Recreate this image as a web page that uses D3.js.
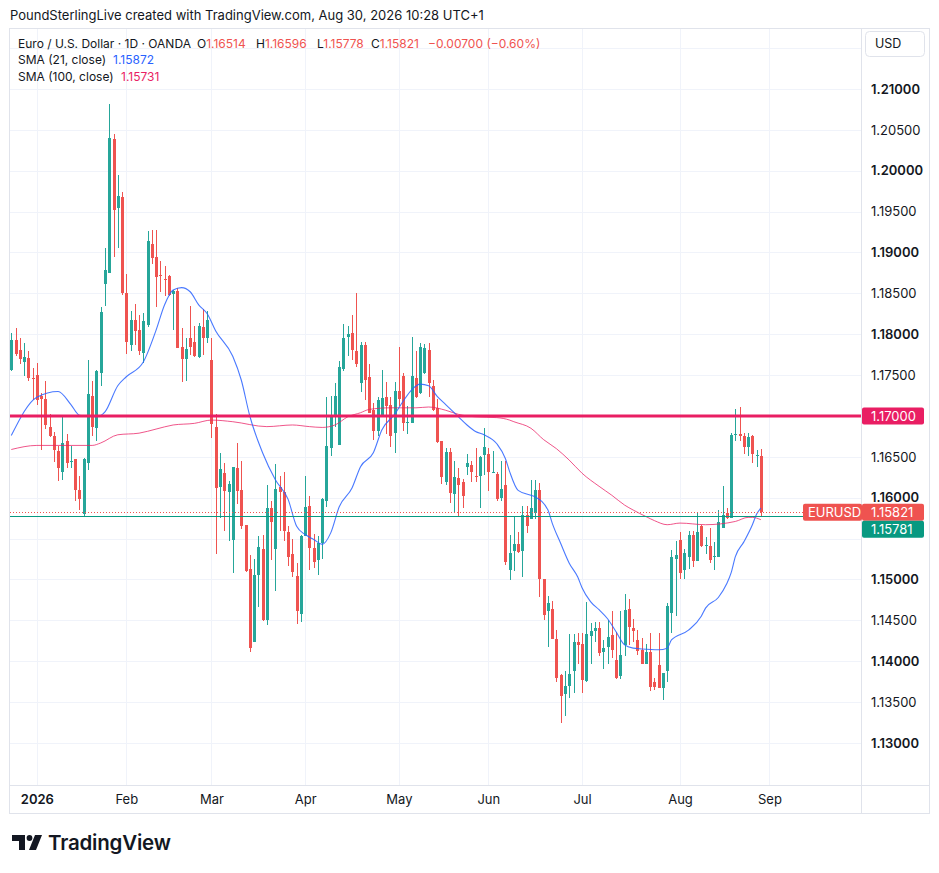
<!DOCTYPE html>
<meta charset="utf-8">
<style>
body { margin: 0; background: #fff; }
svg { display: block; font-family: Inter, Roboto, "Noto Sans", sans-serif; }
</style>
<svg width="939" height="873"></svg>
<script src="https://cdnjs.cloudflare.com/ajax/libs/d3/7.8.5/d3.min.js"></script>
<script>
// EUR/USD daily, OANDA, 23 Dec 2025 - 28 Aug 2026
const opens = [
	1.1756,1.1793,1.1781,1.1766,1.1771,1.1747,1.1750,1.1724,1.1721,1.1687,
	1.1675,1.1657,1.1632,1.1669,1.1644,1.1647,1.1609,1.1580,1.1642,1.1725,
	1.1685,1.1752,1.1862,1.1875,1.2039,1.1954,1.1968,1.1850,1.1787,1.1817,
	1.1805,1.1777,1.1811,1.1911,1.1894,1.1873,1.1868,1.1871,1.1849,1.1853,
	1.1784,1.1770,1.1796,1.1790,1.1772,1.1809,1.1796,1.1769,1.1687,1.1613,
	1.1630,1.1607,1.1548,1.1636,1.1609,1.1567,1.1513,1.1423,1.1505,1.1537,
	1.1451,1.1588,1.1537,1.1613,1.1607,1.1558,1.1531,1.1504,1.1458,1.1553,
	1.1590,1.1539,1.1524,1.1545,1.1596,1.1661,1.1700,1.1665,1.1757,1.1797,
	1.1801,1.1780,1.1740,1.1787,1.1748,1.1707,1.1682,1.1700,1.1723,1.1713,
	1.1679,1.1731,1.1749,1.1692,1.1692,1.1747,1.1728,1.1752,1.1781,1.1737,
	1.1710,1.1670,1.1619,1.1656,1.1605,1.1624,1.1619,1.1638,1.1640,1.1627,
	1.1627,1.1652,1.1654,1.1631,1.1629,1.1600,1.1616,1.1511,1.1535,1.1544,
	1.1535,1.1579,1.1574,1.1581,1.1609,1.1501,1.1462,1.1464,1.1427,1.1383,
	1.1360,1.1370,1.1388,1.1423,1.1421,1.1376,1.1431,1.1437,1.1441,1.1411,
	1.1418,1.1432,1.1401,1.1382,1.1420,1.1464,1.1441,1.1426,1.1414,1.1397,
	1.1411,1.1374,1.1395,1.1367,1.1388,1.1459,1.1525,1.1548,1.1512,1.1528,
	1.1554,1.1523,1.1565,1.1541,1.1541,1.1527,1.1528,1.1563,1.1581,1.1575,
	1.1677,1.1678,1.1676,1.1662,1.1675,1.1652,1.16514
];
const highs = [
	1.1801,1.1808,1.1796,1.1789,1.1779,1.1759,1.1765,1.1728,1.1743,1.1702,
	1.1681,1.1663,1.1700,1.1678,1.1663,1.1647,1.1627,1.1649,1.1768,1.1743,
	1.1756,1.1833,1.1906,1.2082,1.2045,1.1995,1.1974,1.1874,1.1828,1.1837,
	1.1823,1.1826,1.1926,1.1927,1.1927,1.1889,1.1884,1.1872,1.1854,1.1857,
	1.1808,1.1795,1.1834,1.1810,1.1814,1.1831,1.1828,1.1796,1.1703,1.1655,
	1.1642,1.1621,1.1638,1.1667,1.1645,1.1567,1.1530,1.1525,1.1553,1.1554,
	1.1615,1.1596,1.1641,1.1627,1.1631,1.1566,1.1549,1.1520,1.1555,1.1627,
	1.1602,1.1556,1.1553,1.1600,1.1723,1.1724,1.1740,1.1767,1.1812,1.1810,
	1.1824,1.1850,1.1791,1.1791,1.1763,1.1716,1.1723,1.1756,1.1742,1.1723,
	1.1742,1.1785,1.1752,1.1712,1.1797,1.1779,1.1789,1.1788,1.1789,1.1744,
	1.1721,1.1670,1.1661,1.1661,1.1645,1.1636,1.1623,1.1653,1.1645,1.1661,
	1.1651,1.1685,1.1661,1.1657,1.1632,1.1645,1.1645,1.1554,1.1577,1.1558,
	1.1590,1.1590,1.1622,1.1622,1.1618,1.1501,1.1480,1.1474,1.1438,1.1384,
	1.1388,1.1433,1.1433,1.1435,1.1434,1.1473,1.1447,1.1448,1.1448,1.1426,
	1.1451,1.1461,1.1436,1.1461,1.1482,1.1476,1.1452,1.1438,1.1428,1.1421,
	1.1435,1.1379,1.1435,1.1385,1.1471,1.1536,1.1547,1.1558,1.1537,1.1559,
	1.1559,1.1581,1.1567,1.1552,1.1563,1.1546,1.1585,1.1614,1.1588,1.1679,
	1.1709,1.1711,1.1679,1.1679,1.1677,1.1659,1.16596
];
const lows = [
	1.1755,1.1773,1.1764,1.1749,1.1743,1.1720,1.1714,1.1659,1.1684,1.1674,
	1.1644,1.1620,1.1622,1.1636,1.1636,1.1596,1.1585,1.1578,1.1634,1.1675,
	1.1670,1.1737,1.1835,1.1875,1.1895,1.1905,1.1848,1.1776,1.1780,1.1787,
	1.1774,1.1765,1.1809,1.1886,1.1833,1.1852,1.1847,1.1847,1.1805,1.1783,
	1.1742,1.1743,1.1774,1.1772,1.1771,1.1774,1.1789,1.1673,1.1531,1.1575,
	1.1559,1.1547,1.1508,1.1592,1.1562,1.1509,1.1411,1.1423,1.1466,1.1449,
	1.1444,1.1524,1.1486,1.1559,1.1547,1.1516,1.1503,1.1445,1.1448,1.1553,
	1.1512,1.1514,1.1505,1.1525,1.1589,1.1651,1.1687,1.1664,1.1755,1.1773,
	1.1769,1.1760,1.1729,1.1719,1.1704,1.1671,1.1676,1.1699,1.1678,1.1662,
	1.1655,1.1712,1.1682,1.1678,1.1692,1.1722,1.1727,1.1751,1.1723,1.1706,
	1.1667,1.1617,1.1615,1.1594,1.1583,1.1578,1.1588,1.1628,1.1619,1.1619,
	1.1587,1.1628,1.1608,1.1631,1.1596,1.1596,1.1518,1.1499,1.1510,1.1532,
	1.1503,1.1557,1.1574,1.1574,1.1478,1.1450,1.1418,1.1427,1.1375,1.1325,
	1.1333,1.1355,1.1361,1.1397,1.1361,1.1375,1.1397,1.1424,1.1407,1.1391,
	1.1397,1.1404,1.1378,1.1378,1.1406,1.1420,1.1424,1.1408,1.1397,1.1397,
	1.1364,1.1365,1.1367,1.1353,1.1375,1.1434,1.1455,1.1500,1.1500,1.1513,
	1.1515,1.1523,1.1540,1.1531,1.1520,1.1512,1.1528,1.1563,1.1574,1.1575,
	1.1670,1.1670,1.1654,1.1651,1.1642,1.1637,1.15778
];
const closes = [
	1.1793,1.1776,1.1770,1.1772,1.1747,1.1745,1.1720,1.1721,1.1689,1.1675,
	1.1658,1.1636,1.1667,1.1642,1.1645,1.1609,1.1598,1.1647,1.1727,1.1687,
	1.1755,1.1827,1.1879,1.2040,1.1952,1.1969,1.1850,1.1790,1.1817,1.1804,
	1.1779,1.1816,1.1914,1.1893,1.1870,1.1871,1.1866,1.1848,1.1853,1.1783,
	1.1770,1.1782,1.1785,1.1773,1.1810,1.1796,1.1817,1.1690,1.1612,1.1635,
	1.1608,1.1617,1.1637,1.1608,1.1566,1.1510,1.1416,1.1506,1.1540,1.1451,
	1.1588,1.1570,1.1611,1.1607,1.1559,1.1528,1.1509,1.1461,1.1553,1.1589,
	1.1539,1.1521,1.1545,1.1598,1.1663,1.1700,1.1725,1.1760,1.1795,1.1800,
	1.1781,1.1763,1.1787,1.1744,1.1704,1.1682,1.1719,1.1722,1.1712,1.1676,
	1.1731,1.1721,1.1691,1.1693,1.1749,1.1723,1.1785,1.1783,1.1740,1.1707,
	1.1668,1.1625,1.1656,1.1606,1.1625,1.1616,1.1602,1.1642,1.1631,1.1625,
	1.1650,1.1662,1.1631,1.1632,1.1598,1.1611,1.1522,1.1532,1.1543,1.1534,
	1.1579,1.1565,1.1588,1.1609,1.1501,1.1457,1.1471,1.1427,1.1380,1.1357,
	1.1370,1.1384,1.1424,1.1420,1.1377,1.1433,1.1437,1.1441,1.1410,1.1416,
	1.1430,1.1414,1.1379,1.1408,1.1463,1.1442,1.1437,1.1413,1.1397,1.1411,
	1.1368,1.1369,1.1367,1.1385,1.1467,1.1527,1.1530,1.1508,1.1533,1.1554,
	1.1523,1.1558,1.1541,1.1542,1.1524,1.1529,1.1570,1.1579,1.1575,1.1677,
	1.1678,1.1676,1.1662,1.1674,1.1653,1.16521,1.15821
];

// indicator readings as [bar index, value]
const sma21 = [
	[0,1.1676],[6,1.1723],[11,1.1730],[14,1.1714],[16,1.1701],[20,1.1699],[22,1.1705],
	[25,1.1737],[27,1.1748],[31,1.1766],[34,1.1805],[36,1.1836],[38,1.1854],[40,1.1857],
	[42,1.1852],[44,1.1836],[46,1.1825],[48,1.1804],[52,1.1773],[54,1.1744],[56,1.1700],
	[59,1.1655],[62,1.1622],[65,1.1598],[67,1.1565],[69,1.1555],[71,1.1549],[73,1.1543],
	[75,1.1557],[77,1.1589],[80,1.1612],[82,1.1638],[85,1.1655],[87,1.1683],[90,1.1702],
	[92,1.1718],[94,1.1732],[96,1.1739],[98,1.1737],[100,1.1724],[102,1.1714],[105,1.1699],
	[107,1.1689],[109,1.1681],[111,1.1677],[114,1.1666],[116,1.1648],[117,1.1632],[119,1.1609],
	[122,1.1603],[123,1.1601],[126,1.1585],[127,1.1569],[129,1.1544],[131,1.1520],[133,1.1503],
	[134,1.1490],[136,1.1473],[138,1.1463],[140,1.1452],[142,1.1436],[144,1.1420],[146,1.1416],
	[148,1.1415],[152,1.1414],[154,1.1416],[155,1.1426],[159,1.1438],[162,1.1455],[163,1.1465],
	[166,1.1478],[168,1.1495],[169,1.1508],[170,1.1528],[172,1.1546],[174,1.1567],[175,1.1580],
	[176,1.15872]
];
const sma100 = [
	[0,1.1659],[6,1.1664],[19,1.1664],[21,1.1667],[25,1.1677],[30,1.1679],[34,1.1684],
	[38,1.1689],[43,1.1691],[47,1.1695],[52,1.1693],[60,1.1687],[66,1.1689],[70,1.1687],
	[73,1.1686],[76,1.1689],[79,1.1699],[82,1.1704],[84,1.1708],[89,1.1710],[95,1.1710],
	[98,1.1711],[102,1.1707],[105,1.1702],[109,1.1699],[114,1.1698],[117,1.1695],[118,1.1693],
	[122,1.1685],[125,1.1671],[128,1.1660],[131,1.1646],[134,1.1630],[138,1.1614],[141,1.1603],
	[144,1.1591],[146,1.1585],[149,1.1577],[151,1.1572],[154,1.1567],[157,1.1569],[163,1.1567],
	[170,1.1571],[173,1.1576],[174,1.1576],[176,1.15731]
];

const holidays = ['2025-12-25', '2026-01-01'];
const monthStarts = ['2026-01-02','2026-02-02','2026-03-02','2026-04-01','2026-05-01','2026-06-01','2026-07-01','2026-08-03','2026-09-01'];
const monthLabels = ['2026','Feb','Mar','Apr','May','Jun','Jul','Aug','Sep'];
const priceTicks = [1.215,1.21,1.205,1.20,1.195,1.19,1.185,1.18,1.175,1.17,1.165,1.16,1.155,1.15,1.145,1.14,1.135,1.13];
const levelLine = 1.17;
const lowLine = 1.15781;

const svg = d3.select("svg"),
      margin = {top: 29, right: 78, bottom: 88, left: 10},
      width = +svg.attr("width") - margin.left - margin.right,
      height = +svg.attr("height") - margin.top - margin.bottom,
      g = svg.append("g").attr("transform", "translate(" + margin.left + "," + margin.top + ")");

const red = '#ef5350', green = '#26a69a', ink = '#131722', gridColor = '#f0f3fa', border = '#e0e3eb';
const rightBars = 23;

// trading days, weekends and listed holidays skipped
const dates = [];
for (let d = new Date(Date.UTC(2025, 11, 23)); dates.length < opens.length + rightBars + 2; d.setUTCDate(d.getUTCDate() + 1)) {
	const iso = d.toISOString().slice(0, 10);
	if (d.getUTCDay() === 0 || d.getUTCDay() === 6 || holidays.includes(iso)) continue;
	dates.push(iso);
}
const monthIdx = monthStarts.map((s) => dates.indexOf(s));

const bars = opens.map((o, i) => ({i, o, h: highs[i], l: lows[i], c: closes[i]}));
const n = bars.length;

const xScale = d3.scaleLinear().domain([-0.3, n - 1 + rightBars + 0.5]).range([0, width]),
      yScale = d3.scaleLinear().domain([1.12486, 1.21734]).range([height, 0]);

// header
svg.append('text')
	.attr('x', 10).attr('y', 19.5)
	.style('font-size', '13px').attr('fill', ink)
	.text('PoundSterlingLive created with TradingView.com, Aug 30, 2026 10:28 UTC+1');

// frame
svg.append('rect')
	.attr('x', 9.5).attr('y', 28.5).attr('width', 920).attr('height', 785)
	.attr('fill', 'none').attr('stroke', border);

g.append('defs').append('clipPath').attr('id', 'pane')
	.append('rect').attr('width', width).attr('height', height);

// grid
g.append('g')
	.selectAll('line')
	.data(priceTicks)
	.enter()
	.append('line')
	.attr('x1', 0).attr('x2', width)
	.attr('y1', (d) => Math.round(yScale(d)) + 0.5)
	.attr('y2', (d) => Math.round(yScale(d)) + 0.5)
	.attr('stroke', gridColor);

g.append('g')
	.selectAll('line')
	.data(monthIdx)
	.enter()
	.append('line')
	.attr('x1', (d) => Math.round(xScale(d)) + 0.5)
	.attr('x2', (d) => Math.round(xScale(d)) + 0.5)
	.attr('y1', 0).attr('y2', height)
	.attr('stroke', gridColor);

const pane = g.append('g').attr('clip-path', 'url(#pane)');

// candles
const candle = pane.append('g')
	.attr('shape-rendering', 'crispEdges')
	.selectAll('g')
	.data(bars)
	.enter()
	.append('g')
	.attr('fill', (d) => d.c >= d.o ? green : red);

candle.append('rect')
	.attr('x', (d) => Math.round(xScale(d.i)))
	.attr('width', 1)
	.attr('y', (d) => yScale(d.h))
	.attr('height', (d) => Math.max(1, yScale(d.l) - yScale(d.h)));

candle.append('rect')
	.attr('x', (d) => Math.round(xScale(d.i)) - 1)
	.attr('width', 3)
	.attr('y', (d) => yScale(Math.max(d.o, d.c)))
	.attr('height', (d) => Math.max(1, Math.abs(yScale(d.o) - yScale(d.c))));

// moving averages
const line = d3.line()
	.x((d) => xScale(d[0]))
	.y((d) => yScale(d[1]))
	.curve(d3.curveMonotoneX);

pane.append('path')
	.attr('fill', 'none')
	.attr('stroke', '#e91e63')
	.attr('stroke-opacity', 0.75)
	.attr('stroke-width', 1)
	.attr('d', line(sma100));

pane.append('path')
	.attr('fill', 'none')
	.attr('stroke', '#2962ff')
	.attr('stroke-opacity', 0.85)
	.attr('stroke-width', 1.1)
	.attr('d', line(sma21));

// horizontal drawings
pane.append('line')
	.attr('x1', 0).attr('x2', width)
	.attr('y1', Math.round(yScale(lowLine)) + 0.5)
	.attr('y2', Math.round(yScale(lowLine)) + 0.5)
	.attr('stroke', '#089981');

pane.append('line')
	.attr('x1', 0).attr('x2', width)
	.attr('y1', Math.round(yScale(closes[n - 1])) + 0.5)
	.attr('y2', Math.round(yScale(closes[n - 1])) + 0.5)
	.attr('stroke', red)
	.attr('stroke-dasharray', '1 2');

pane.append('line')
	.attr('x1', 0).attr('x2', width)
	.attr('y1', yScale(levelLine))
	.attr('y2', yScale(levelLine))
	.attr('stroke', '#e91e63')
	.attr('stroke-width', 3);

// pane separators
svg.append('line')
	.attr('x1', margin.left + width + 0.5).attr('x2', margin.left + width + 0.5)
	.attr('y1', 29).attr('y2', 813)
	.attr('stroke', border);
svg.append('line')
	.attr('x1', 10).attr('x2', 929)
	.attr('y1', margin.top + height + 0.5).attr('y2', margin.top + height + 0.5)
	.attr('stroke', border);

// price axis: labels hidden by the price boxes are left out
const lastY = yScale(closes[n - 1]);
const boxYs = [yScale(levelLine), lastY, Math.max(lastY + 17, yScale(lowLine))];
const yAxis = d3.axisRight(yScale)
	.tickValues(priceTicks.filter((d) => d < 1.214 && boxYs.every((b) => Math.abs(yScale(d) - b) > 12)))
	.tickSize(0)
	.tickPadding(10)
	.tickFormat(d3.format('.5f'));

g.append('g')
	.attr('transform', `translate(${width}, 0)`)
	.call(yAxis)
	.call((a) => a.select('.domain').remove())
	.selectAll('text')
	.style('font-size', '13px')
	.style('font-family', 'Inter, Roboto, sans-serif')
	.attr('fill', ink)
	.style('font-weight', (d) => Math.round(d * 1000) % 10 === 0 ? 600 : 400);

// time axis
const xAxis = d3.axisBottom(xScale)
	.tickValues(monthIdx)
	.tickSize(0)
	.tickPadding(10)
	.tickFormat((d, i) => monthLabels[i]);

g.append('g')
	.attr('transform', `translate(0, ${height})`)
	.call(xAxis)
	.call((a) => a.select('.domain').remove())
	.selectAll('text')
	.style('font-size', '13px')
	.style('font-family', 'Inter, Roboto, sans-serif')
	.attr('fill', ink)
	.style('font-weight', (d, i) => i === 0 ? 600 : 400);

// price labels on the axis
function priceBox(price, yMid, fill, tag) {
	const top = yMid - 8.5;
	svg.append('rect')
		.attr('x', 862).attr('y', top).attr('width', 62).attr('height', 17)
		.attr('rx', 2).attr('fill', fill);
	svg.append('text')
		.attr('x', 871).attr('y', yMid).attr('dy', '0.35em')
		.style('font-size', '13px').attr('fill', '#fff')
		.text(d3.format('.5f')(price));
	if (tag) {
		svg.append('rect')
			.attr('x', 803).attr('y', top).attr('width', 59).attr('height', 17)
			.attr('rx', 2).attr('fill', fill);
		svg.append('text')
			.attr('x', 808).attr('y', yMid).attr('dy', '0.35em')
			.style('font-size', '13px').attr('fill', '#fff')
			.text(tag);
	}
}
priceBox(levelLine, margin.top + boxYs[0], '#e91e63');
priceBox(closes[n - 1], margin.top + boxYs[1], red, 'EURUSD');
priceBox(lowLine, margin.top + boxYs[2], '#089981');

// currency button
svg.append('rect')
	.attr('x', 865.5).attr('y', 31.5).attr('width', 59).attr('height', 25)
	.attr('rx', 4).attr('fill', '#fff').attr('stroke', border);
svg.append('text')
	.attr('x', 875).attr('y', 44).attr('dy', '0.35em')
	.style('font-size', '12.5px').attr('fill', ink)
	.text('USD');

// legend
const legend = svg.append('g').style('font-size', '12px').attr('fill', ink);
const l1 = legend.append('text').attr('y', 43.3).attr('dy', '0.35em');
l1.append('tspan').attr('x', 18).text('Euro / U.S. Dollar · 1D · OANDA');
[['O', opens[n - 1], 197], ['H', highs[n - 1], 256], ['L', lows[n - 1], 317], ['C', closes[n - 1], 371]].forEach(([k, v, x]) => {
	l1.append('tspan').attr('x', x).text(k);
	l1.append('tspan').attr('fill', red).text(d3.format('.5f')(v));
});
const chg = closes[n - 1] - closes[n - 2];
l1.append('tspan').attr('x', 428).attr('fill', red)
	.text(`−${d3.format('.5f')(Math.abs(chg))} (−${d3.format('.2f')(Math.abs(chg) / closes[n - 2] * 100)}%)`);

const l2 = legend.append('text').attr('y', 60).attr('dy', '0.35em');
l2.append('tspan').attr('x', 18).text('SMA (21, close)');
l2.append('tspan').attr('x', 113).attr('fill', '#2962ff').text(d3.format('.5f')(sma21[sma21.length - 1][1]));

const l3 = legend.append('text').attr('y', 76.7).attr('dy', '0.35em');
l3.append('tspan').attr('x', 18).text('SMA (100, close)');
l3.append('tspan').attr('x', 121).attr('fill', '#e91e63').text(d3.format('.5f')(sma100[sma100.length - 1][1]));

// TradingView logo
const logo = svg.append('g').attr('fill', ink);
logo.append('path').attr('d', 'M12,835 H25 V850 H19 V841 H12 Z');
logo.append('circle').attr('cx', 29.5).attr('cy', 838).attr('r', 2.9);
logo.append('path').attr('d', 'M35,835 H42 L36,850 H29 Z');
logo.append('text')
	.attr('x', 48).attr('y', 850)
	.style('font-size', '20.5px').style('font-weight', 600).style('letter-spacing', '-0.2px')
	.text('TradingView');
</script>
